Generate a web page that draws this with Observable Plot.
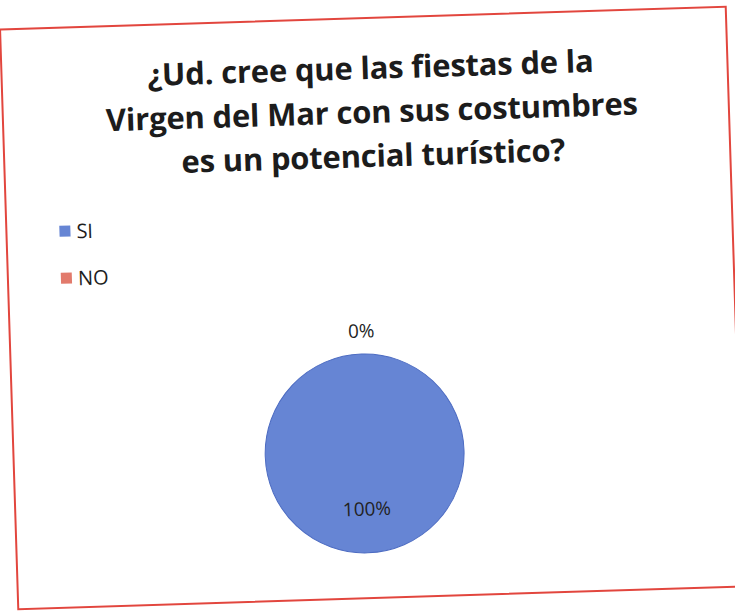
<!DOCTYPE html>
<html>
<head>
<meta charset="utf-8">
<script src="https://cdn.jsdelivr.net/npm/d3@7"></script>
<script src="https://cdn.jsdelivr.net/npm/@observablehq/plot@0.6"></script>
<style>
  html, body { margin: 0; padding: 0; background: #fff; }
  body { width: 735px; height: 614px; overflow: hidden; position: relative; font-family: "Open Sans", "Noto Sans", sans-serif; }
  #box { position: absolute; left: 8px; top: 17px; width: 724px; height: 578px; border: 2px solid #e2463e; transform: rotate(-1.8deg); transform-origin: 50% 50%; background: #fff; }
  #title { position: absolute; left: 0; top: 26px; width: 736px; text-align: center; font-weight: 700; font-size: 31px; line-height: 44px; color: #1c1c1c; letter-spacing: -0.2px; }
  .leg { position: absolute; left: 52px; display: flex; align-items: center; font-size: 20px; color: #1e1e1e; }
  .sw { width: 11px; height: 11px; margin-right: 6px; }
  #chart { position: absolute; left: 0; top: 278px; }
</style>
</head>
<body>
<div id="box">
  <div id="title"></div>
  <div id="legend"></div>
  <div id="chart"></div>
</div>
<script>
const titleLines = ["¿Ud. cree que las fiestas de la", "Virgen del Mar con sus costumbres", "es un potencial turístico?"];
const categories = ["SI", "NO"];
const values = [100, 0];
const labels = ["100%", "0%"];
const colors = ["#6685d4", "#e27a6c"];

document.getElementById("title").innerHTML = titleLines.join("<br>");
const leg = document.getElementById("legend");
categories.forEach((c, i) => {
  const d = document.createElement("div");
  d.className = "leg";
  d.style.top = (189 + i * 47) + "px";
  d.innerHTML = `<span class="sw" style="background:${colors[i]}"></span>${c}`;
  leg.appendChild(d);
});

const data = categories.map((c, i) => ({category: c, value: values[i], label: labels[i]}));
const arcs = d3.pie().sort(null).value(d => d.value)(data);
const R = 100;

// label positions in unit coordinates (x right, y up)
const labelData = arcs.map(a => {
  const mid = (a.startAngle + a.endAngle) / 2;
  const k = a.data.value === 0 ? 1.23 : 0.56;
  return {label: a.data.label, x: k * Math.sin(mid), y: k * Math.cos(mid)};
});

const cx = 352, cy = 157;
const plot = Plot.plot({
  width: 728,
  height: 300,
  margin: 0,
  x: {domain: [-1, 1], range: [cx - R, cx + R], axis: null},
  y: {domain: [-1, 1], range: [cy + R, cy - R], axis: null},
  color: {domain: categories, range: colors},
  marks: [
    (index, scales) => {
      const x = scales.x, y = scales.y, color = scales.color;
      const px0 = x(0), py0 = y(0);
      const r = Math.abs(x(1) - x(0));
      const arc = d3.arc().innerRadius(0).outerRadius(r);
      const g = d3.create("svg:g").attr("transform", `translate(${px0},${py0})`);
      g.selectAll("path").data(arcs.filter(a => a.data.value > 0)).join("path")
        .attr("d", arc)
        .attr("fill", a => color ? color(a.data.category) : colors[categories.indexOf(a.data.category)])
        .attr("stroke", "#4d6cc2")
        .attr("stroke-width", 1);
      return g.node();
    },
    Plot.text(labelData, {x: "x", y: "y", text: "label", fontSize: 19, fill: "#222", fontFamily: "Open Sans"})
  ]
});
document.getElementById("chart").appendChild(plot);
</script>
</body>
</html>
